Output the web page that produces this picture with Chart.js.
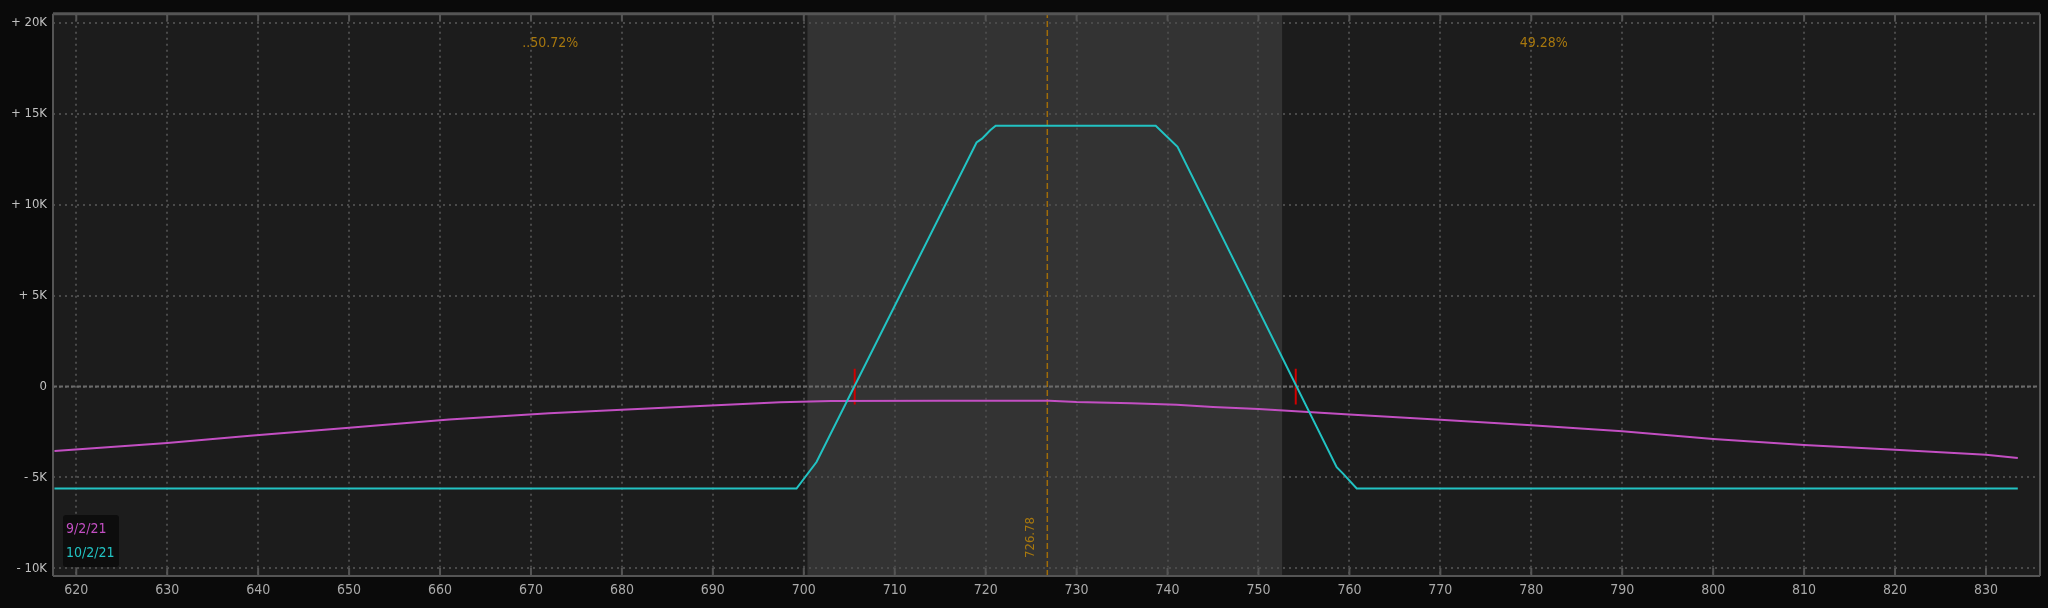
<!DOCTYPE html>
<html>
<head>
<meta charset="utf-8">
<script src="https://cdn.jsdelivr.net/npm/chart.js@4"></script>
<style>
  html, body { margin: 0; padding: 0; background: #0a0a0a; }
  #wrap { width: 2048px; height: 608px; }
</style>
</head>
<body>
<div id="wrap"><canvas id="c" width="2048" height="608"></canvas></div>
<script>
// ---------- data ----------
const seriesLabels = ['9/2/21', '10/2/21'];
const seriesColors = ['#c34fc3', '#22c3c3'];

// 9/2/21 (today) P/L curve
const todayX = [617.6, 630, 639.1, 650, 661, 672, 680, 688.6, 697.4, 703, 715, 727, 730, 736, 741, 745, 750, 760, 770, 780, 790, 800, 810, 820, 830, 833.5];
const todayY = [-3550, -3110, -2700, -2270, -1810, -1470, -1280, -1070, -860, -800, -780, -780, -850, -920, -1000, -1120, -1240, -1530, -1820, -2130, -2460, -2880, -3210, -3480, -3750, -3930];

// 10/2/21 (expiration) P/L curve
const expX = [617.6, 699.2, 701.4, 719.0, 719.6, 720.5, 721.1, 738.7, 741.1, 758.6, 759.3, 760.8, 833.5];
const expY = [-5610, -5610, -4150, 13430, 13640, 14100, 14350, 14350, 13190, -4430, -4790, -5610, -5610];

const xTicks = [620, 630, 640, 650, 660, 670, 680, 690, 700, 710, 720, 730, 740, 750, 760, 770, 780, 790, 800, 810, 820, 830];
const yTicks = [-10000, -5000, 0, 5000, 10000, 15000, 20000];
const yTickLabels = ['- 10K', '- 5K', '0', '+ 5K', '+ 10K', '+ 15K', '+ 20K'];
const xRange = [617.44, 835.94];
const yRange = [-10421, 20508];

const priceLine = [726.78];
const priceLabel = ['726.78'];
const shadedRange = [700.4, 752.6];
const probLabels = ['..50.72%', '49.28%'];
const breakEvens = [705.6, 754.1];
const breakEvenSpan = [-980, 980];

// ---------- drawing ----------
const FONT = "'DejaVu Sans Condensed', 'Liberation Sans Narrow', 'DejaVu Sans', sans-serif";

const decor = {
  id: 'decor',
  beforeDraw(chart) {
    const {ctx, chartArea: a, scales: {x}} = chart;
    ctx.save();
    ctx.fillStyle = '#0a0a0a';
    ctx.fillRect(0, 0, chart.width, chart.height);
    ctx.fillStyle = '#1c1c1c';
    ctx.fillRect(a.left, a.top, a.right - a.left, a.bottom - a.top);
    const s0 = x.getPixelForValue(shadedRange[0]);
    const s1 = x.getPixelForValue(shadedRange[1]);
    ctx.fillStyle = '#333333';
    ctx.fillRect(s0, a.top, s1 - s0, a.bottom - a.top);
    ctx.restore();
  },
  afterDatasetsDraw(chart) {
    const {ctx, chartArea: a, scales: {x, y}} = chart;
    ctx.save();
    // borders
    ctx.strokeStyle = '#555555';
    ctx.lineWidth = 2;
    ctx.beginPath();
    ctx.moveTo(a.left, a.top); ctx.lineTo(a.left, a.bottom);
    ctx.moveTo(a.right, a.top); ctx.lineTo(a.right, a.bottom);
    ctx.moveTo(a.left, a.bottom); ctx.lineTo(a.right, a.bottom);
    ctx.stroke();
    ctx.lineWidth = 3;
    ctx.beginPath();
    ctx.moveTo(a.left, a.top); ctx.lineTo(a.right, a.top);
    ctx.stroke();
    // tick marks inside
    ctx.lineWidth = 2;
    ctx.beginPath();
    xTicks.forEach(v => {
      const px = x.getPixelForValue(v);
      ctx.moveTo(px, a.top); ctx.lineTo(px, a.top + 7);
      ctx.moveTo(px, a.bottom); ctx.lineTo(px, a.bottom - 8);
    });
    ctx.stroke();

    // probability labels
    ctx.fillStyle = '#a8780e';
    ctx.font = "14px " + FONT;
    ctx.textAlign = 'center';
    ctx.textBaseline = 'middle';
    const pp = x.getPixelForValue(priceLine[0]);
    const lx = (a.left + pp) / 2, rx = (pp + a.right) / 2;
    ctx.fillText(probLabels[0], lx, 43);
    ctx.fillText(probLabels[1], rx, 43);

    // rotated price label
    ctx.save();
    ctx.translate(pp - 17, a.bottom - 18);
    ctx.rotate(-Math.PI / 2);
    ctx.textAlign = 'left';
    ctx.textBaseline = 'middle';
    ctx.font = "13px " + FONT;
    ctx.fillText(priceLabel[0], 0, 0);
    ctx.restore();

    // legend box
    const bx = a.left + 10, by = a.bottom - 61;
    ctx.fillStyle = '#0d0d0d';
    ctx.beginPath();
    if (ctx.roundRect) ctx.roundRect(bx, by, 56, 52, 3); else ctx.rect(bx, by, 56, 52);
    ctx.fill();
    ctx.font = "14px " + FONT;
    ctx.textAlign = 'left';
    ctx.textBaseline = 'middle';
    ctx.fillStyle = seriesColors[0];
    ctx.fillText(seriesLabels[0], bx + 3, by + 14);
    ctx.fillStyle = seriesColors[1];
    ctx.fillText(seriesLabels[1], bx + 3, by + 38);
    ctx.restore();
  }
};

const pts = (xs, ys) => xs.map((v, i) => ({x: v, y: ys[i]}));
const lineDs = {pointRadius: 0, tension: 0, fill: false};

new Chart(document.getElementById('c'), {
  type: 'line',
  data: {
    datasets: [
      Object.assign({label: seriesLabels[1], data: pts(expX, expY), borderColor: seriesColors[1], borderWidth: 2}, lineDs),
      Object.assign({label: seriesLabels[0], data: pts(todayX, todayY), borderColor: seriesColors[0], borderWidth: 2}, lineDs),
      Object.assign({label: 'be1', data: [{x: breakEvens[0], y: breakEvenSpan[0]}, {x: breakEvens[0], y: breakEvenSpan[1]}], borderColor: '#d00000', borderWidth: 2}, lineDs),
      Object.assign({label: 'be2', data: [{x: breakEvens[1], y: breakEvenSpan[0]}, {x: breakEvens[1], y: breakEvenSpan[1]}], borderColor: '#d00000', borderWidth: 2}, lineDs),
      Object.assign({label: 'price', data: [{x: priceLine[0], y: yRange[0]}, {x: priceLine[0], y: yRange[1]}], borderColor: '#a06c08', borderWidth: 1.5, borderDash: [6, 3]}, lineDs),
      Object.assign({label: 'zero', data: [{x: xRange[0], y: 0}, {x: xRange[1], y: 0}], borderColor: '#6a6a6a', borderWidth: 2, borderDash: [4, 2]}, lineDs)
    ]
  },
  options: {
    animation: false,
    responsive: false,
    devicePixelRatio: 1,
    layout: {padding: {top: 10, right: 8, left: 0, bottom: 0}},
    plugins: {legend: {display: false}, tooltip: {enabled: false}},
    scales: {
      x: {
        type: 'linear',
        min: xRange[0], max: xRange[1],
        afterBuildTicks: s => { s.ticks = xTicks.map(v => ({value: v})); },
        afterFit: s => { s.height = 32; },
        grid: {color: '#4a4a4a', lineWidth: 2, drawTicks: false},
        border: {display: false, dash: [2, 4]},
        ticks: {color: '#aaaaaa', font: {family: FONT, size: 14}, padding: 6, maxRotation: 0, autoSkip: false,
                callback: v => String(v)}
      },
      y: {
        type: 'linear',
        min: yRange[0], max: yRange[1],
        afterBuildTicks: s => { s.ticks = yTicks.map(v => ({value: v})); },
        afterFit: s => { s.width = 53; },
        grid: {color: '#4a4a4a', lineWidth: 2, drawTicks: false},
        border: {display: false, dash: [2, 4]},
        ticks: {color: '#c0c0c0', font: {family: FONT, size: 13}, padding: 6, autoSkip: false,
                callback: v => yTickLabels[yTicks.indexOf(v)]}
      }
    }
  },
  plugins: [decor]
});
</script>
</body>
</html>
